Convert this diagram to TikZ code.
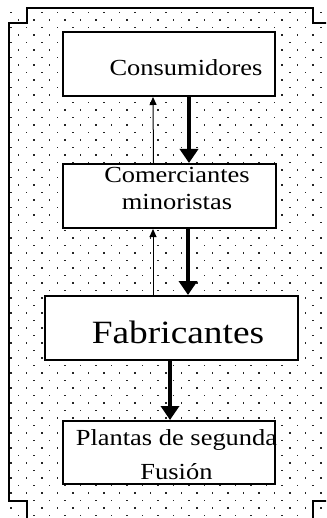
\documentclass[tikz,border=0pt]{standalone}
\usepackage{fontspec}
\setmainfont{Liberation Serif}[FakeStretch=1.15]
\usetikzlibrary{arrows.meta}
\begin{document}
\begin{tikzpicture}[x=1pt,y=-1pt,
  box/.style={draw,line width=2pt,fill=white,inner sep=0pt},
  txt/.style={inner sep=0pt,align=center,font=\fontsize{23}{27}\selectfont},
  bigtxt/.style={inner sep=0pt,font=\fontsize{32.5}{40}\selectfont},
  thinarrow/.style={line width=1pt,-{Triangle[length=8pt,width=7pt]}},
  thickarrow/.style={line width=4pt,-{Triangle[length=14pt,width=18pt]}},
  frameline/.style={line width=2pt,line cap=rect}]
\useasboundingbox (0,0) rectangle (326,518);
\clip (0,0) rectangle (326,518);
% dotted background
\begin{scope}
\clip (9,8) rectangle (330,520);
\foreach \r in {0,...,68}{
  \pgfmathsetmacro{\yy}{12+7.5*\r}
  \pgfmathsetmacro{\xo}{10+7.75*mod(\r,2)}
  \foreach \c in {0,...,21}{
    \fill[black!85] (\xo+15.5*\c,\yy) rectangle +(1.5,1.5);
  }
}
\end{scope}
% frame
\draw[frameline] (27,530) -- (27,501) -- (9,501) -- (9,23) -- (27,23) -- (27,8) -- (313,8) -- (313,23) -- (340,23);
\draw[frameline] (340,501) -- (313,501) -- (313,530);
% boxes
\node[box,minimum width=212pt,minimum height=64pt] (cons) at (169,64) {};
\node[box,minimum width=213pt,minimum height=64pt] (com) at (169.5,196) {};
\node[box,minimum width=253pt,minimum height=64pt] (fab) at (171.5,328) {};
\node[box,minimum width=212pt,minimum height=63pt] (pla) at (169,452.5) {};
% texts (base anchor = baseline of last line)
\node[txt,anchor=base] (consT) at (186,76) {Consumidores};
\node[txt,anchor=base] (comT) at (177,210) {Comerciantes\\minoristas};
\node[bigtxt,anchor=base] (fabT) at (178,343) {Fabricantes};
\node[txt,anchor=base,font=\fontsize{23}{34}\selectfont] (plaT) at (176.5,479) {Plantas de segunda\\Fusión};
% connectors
\draw[thinarrow] ([xshift=-16pt]com.north) -- ([xshift=-16pt]cons.south);
\draw[thickarrow] ([xshift=20pt]cons.south) -- ([xshift=19.5pt]com.north);
\draw[thinarrow] ([xshift=-18.5pt]fab.north) -- ([xshift=-16.5pt]com.south);
\draw[thickarrow] ([xshift=18.5pt]com.south) -- ([xshift=16.5pt]fab.north);
\draw[thickarrow] ([xshift=-1.5pt]fab.south) -- ([xshift=1pt]pla.north);
\end{tikzpicture}
\end{document}
